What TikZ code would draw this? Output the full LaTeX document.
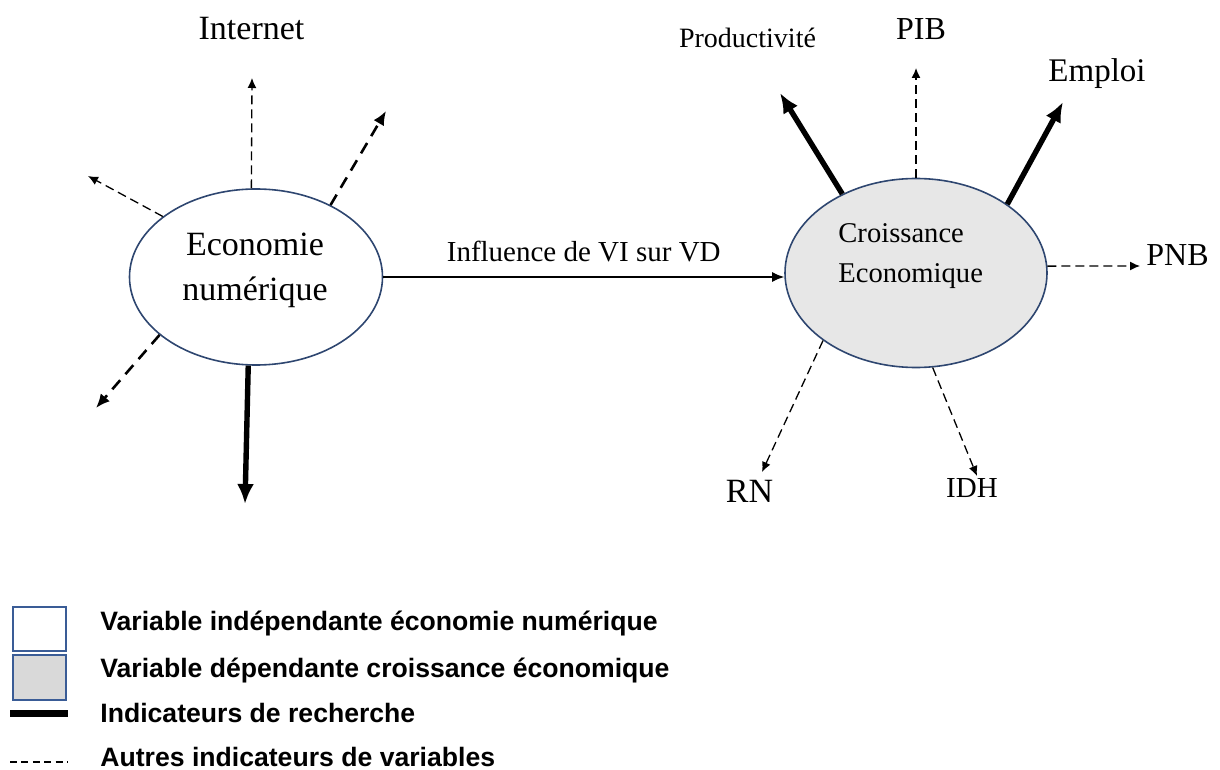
\documentclass[tikz,border=0pt]{standalone}
\usepackage{fontspec}
\setmainfont{Liberation Serif}
\setsansfont{Liberation Sans}
\usepackage{xcolor}
\definecolor{navy}{RGB}{46,70,112}
\definecolor{lblue}{RGB}{58,92,150}
\definecolor{lgray}{RGB}{231,231,231}
\definecolor{kgray}{RGB}{217,217,217}
\usepackage{tikz}
\usetikzlibrary{arrows.meta, positioning, shapes.geometric, calc}

\begin{document}
\begin{tikzpicture}[
    x=0.5pt, y=-0.5pt,
    var/.style={ellipse, draw=navy, line width=0.8pt, inner sep=0pt},
    txt/.style={inner sep=0pt, anchor=base},
    other/.style={dash pattern=on 4.5pt off 2.5pt, line width=0.65pt, -{Latex[length=5pt, width=4.5pt]}},
    otherw/.style={dash pattern=on 6pt off 4pt, line width=1.3pt, -{Latex[length=7pt, width=6pt]}},
    research/.style={line width=2.7pt, -{Latex[length=10pt, width=8.5pt]}},
    legkey/.style={draw=lblue, line width=1pt, minimum width=26.5pt, inner sep=0pt},
    legtxt/.style={font=\sffamily\bfseries\fontsize{13.3}{15}\selectfont, inner sep=0pt, anchor=base west}
    ]
    \useasboundingbox (0,0) rectangle (1220,770);

    % les deux variables
    \node[var, fill=white, minimum width=126.5pt, minimum height=88pt] (eco) at (256,277) {};
    \node[var, fill=lgray, minimum width=131pt, minimum height=94.5pt] (cro) at (916,273) {};
    \node[inner sep=0pt, font=\fontsize{17}{22.5}\selectfont, align=center] (ecoT) at (255,270) {Economie\\numérique};
    \node[inner sep=0pt, font=\fontsize{14.3}{20}\selectfont, align=left, anchor=west] (croT) at (838,256) {Croissance\\Economique};

    % indicateurs
    \node[txt, font=\fontsize{17}{20}\selectfont] (inet) at (251.5,40) {Internet};
    \node[txt, font=\fontsize{14}{17}\selectfont] (prod) at (747.5,48) {Productivité};
    \node[txt, font=\fontsize{16}{18}\selectfont] (pib) at (921,40) {PIB};
    \node[txt, font=\fontsize{16.5}{19}\selectfont] (emp) at (1097,82) {Emploi};
    \node[txt, font=\fontsize{16}{19}\selectfont] (pnb) at (1177.5,265) {PNB};
    \node[txt, font=\fontsize{17}{20}\selectfont] (rn) at (749.5,502) {RN};
    \node[txt, font=\fontsize{14.5}{17}\selectfont] (idh) at (972,497) {IDH};

    \coordinate (tInet) at (252,78);
    \coordinate (tNE) at (386,111);
    \coordinate (tNW) at (88,176);
    \coordinate (tSW) at (96,408);
    \coordinate (tS) at (245,504);
    \coordinate (tProd) at (780,93);
    \coordinate (tPib) at (916,68);
    \coordinate (tEmp) at (1063,102);
    \coordinate (tPnb) at (1140,266);
    \coordinate (tRn) at (762,472);
    \coordinate (tIdh) at (977,476);

    \draw[other] (eco.93) -- (tInet);
    \draw[otherw] (eco.44) -- (tNE);
    \draw[other] (eco.147) -- (tNW);
    \draw[otherw] (eco.211) -- (tSW);
    \draw[research] (eco.265) -- (tS);

    \draw[research] (cro.133) -- (tProd);
    \draw[other] (cro.90) -- (tPib);
    \draw[research] (cro.37) -- (tEmp);
    \draw[other] (cro.3) -- (tPnb);
    \draw[other] (cro.216) -- (tRn);
    \draw[other] (cro.280) -- (tIdh);

    \draw[line width=0.75pt, -{Latex[length=6pt, width=5pt]}] (eco.east) -- (eco.east -| cro.west)
        node[midway, above=7pt, inner sep=0pt, font=\fontsize{14.5}{17}\selectfont] (infl) {Influence de VI sur VD};

    % legende
    \node[legkey, fill=white, minimum height=22pt] (kInd) at (39.5,629) {};
    \node[legkey, fill=kgray, minimum height=22.5pt] (kDep) at (39.5,677.5) {};
    \draw[line width=3.5pt] (10,713) -- (68,713);
    \draw[line width=0.6pt, dash pattern=on 3.5pt off 2.2pt] (10,762) -- (68,762);
    \node[legtxt] (lInd) at (100,630) {Variable indépendante économie numérique};
    \node[legtxt] (lDep) at (100,677) {Variable dépendante croissance économique};
    \node[legtxt] (lRech) at (100,722) {Indicateurs de recherche};
    \node[legtxt] (lAut) at (100,766) {Autres indicateurs de variables};
\end{tikzpicture}
\end{document}
